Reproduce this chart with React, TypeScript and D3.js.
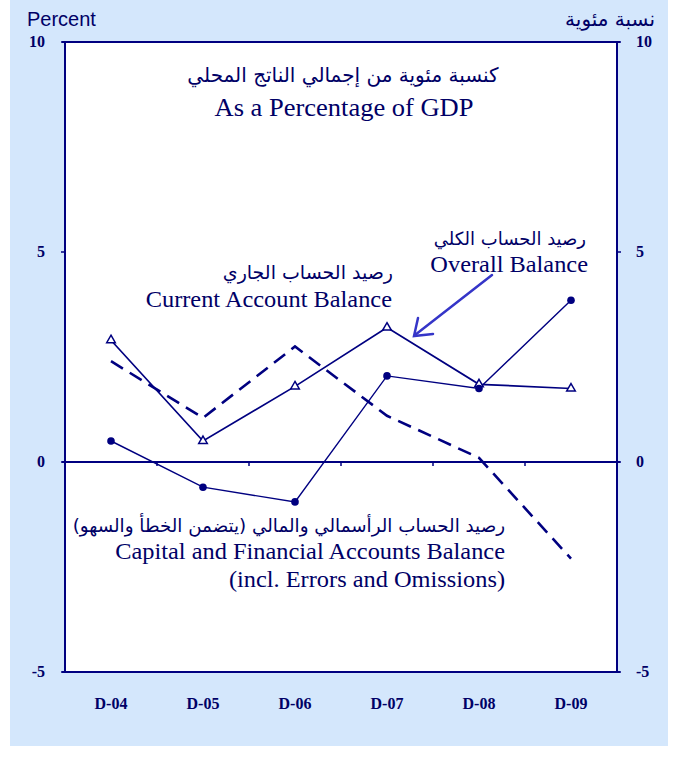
import React from "react";
import * as d3 from "d3";

const categories = ["D-04", "D-05", "D-06", "D-07", "D-08", "D-09"];
const overallBalance = [2.9, 0.5, 1.8, 3.2, 1.85, 1.75];
const currentAccount = [2.4, 1.05, 2.75, 1.1, 0.1, -2.3];
const capitalAccount = [0.5, -0.6, -0.95, 2.05, 1.75, 3.85];
const yTicks = [10, 5, 0, -5];

const W = 677;
const H = 761;
const NAVY = "#000080";
const TEXT = "#000066";
const BG = "#d4e7fc";
const SERIF = "'Liberation Serif', 'Times New Roman', serif";
const SANS = "'Liberation Sans', Arial, sans-serif";
const AR = "'DejaVu Sans', sans-serif";

// Serif text slightly stretched horizontally, as in the reference
function SText(props: { x: number; y: number; size: number; anchor: string; children: React.ReactNode }) {
  const sx = 1.06;
  return (
    <text
      transform={`translate(${props.x},${props.y}) scale(${sx},1)`}
      textAnchor={props.anchor}
      fontFamily={SERIF}
      fontSize={props.size}
      fill={TEXT}
    >
      {props.children}
    </text>
  );
}

export default function App() {
  const x = d3.scaleBand<string>().domain(categories).range([65, 617]);
  const y = d3.scaleLinear().domain([-5, 10]).range([672, 42]);
  const cx = (c: string) => (x(c) as number) + x.bandwidth() / 2;
  const line = d3
    .line<number>()
    .x((_, i) => cx(categories[i]))
    .y((d) => y(d));
  const tri = d3.symbol().type(d3.symbolTriangle).size(32)();

  const [x0, x1] = x.range();
  const boundaries = categories.slice(1).map((c) => x(c) as number);

  return (
    <svg width={W} height={H} style={{ display: "block", position: "absolute", left: 0, top: 0 }}>
      <rect x={10} y={0} width={658} height={746} fill={BG} />
      <rect x={x0} y={y(10)} width={x1 - x0} height={y(-5) - y(10)} fill="#ffffff" />

      {/* axes */}
      <line x1={x0 - 3} x2={x1 + 3} y1={y(10)} y2={y(10)} stroke={NAVY} strokeWidth={2} />
      <line x1={x0 - 3} x2={x1 + 3} y1={y(-5)} y2={y(-5)} stroke={NAVY} strokeWidth={2} />
      <line x1={x0} x2={x0} y1={y(10)} y2={y(-5)} stroke={NAVY} strokeWidth={2} />
      <line x1={x1} x2={x1} y1={y(10)} y2={y(-5)} stroke={NAVY} strokeWidth={2} />
      <line x1={x0 - 3} x2={x1 + 3} y1={y(0)} y2={y(0)} stroke={NAVY} strokeWidth={2} />
      {yTicks.map((t) => (
        <g key={t}>
          <line x1={x0 - 4} x2={x0} y1={y(t)} y2={y(t)} stroke={NAVY} strokeWidth={1.5} />
          <line x1={x1} x2={x1 + 4} y1={y(t)} y2={y(t)} stroke={NAVY} strokeWidth={1.5} />
        </g>
      ))}
      {boundaries.map((b) => (
        <line key={b} x1={b} x2={b} y1={y(0)} y2={y(0) + 4} stroke={NAVY} strokeWidth={1.5} />
      ))}

      {/* tick labels */}
      {yTicks.map((t) => (
        <g key={"l" + t} fontFamily={SERIF} fontWeight="bold" fontSize={16} fill={TEXT}>
          <text x={45} y={y(t) + 5} textAnchor="end">{t}</text>
          <text x={636} y={y(t) + 5} textAnchor="start">{t}</text>
        </g>
      ))}
      {categories.map((c) => (
        <text key={c} x={cx(c)} y={709} textAnchor="middle" fontFamily={SERIF} fontWeight="bold" fontSize={16} fill={TEXT}>
          {c}
        </text>
      ))}

      <text x={27} y={26} fontFamily={SANS} fontSize={20} fill={TEXT}>Percent</text>
      <text x={655} y={26} textAnchor="start" fontFamily={AR} fontSize={20} fill={TEXT} direction="rtl">نسبة مئوية</text>

      {/* series */}
      <path d={line(currentAccount) || ""} fill="none" stroke={NAVY} strokeWidth={2.6} strokeDasharray="14,8" />
      <path d={line(overallBalance) || ""} fill="none" stroke={NAVY} strokeWidth={1.7} />
      <path d={line(capitalAccount) || ""} fill="none" stroke={NAVY} strokeWidth={1.4} />
      {overallBalance.map((v, i) => (
        <path key={"t" + i} d={tri || ""} transform={`translate(${cx(categories[i])},${y(v)})`} fill="#ffffff" stroke={NAVY} strokeWidth={1.5} />
      ))}
      {capitalAccount.map((v, i) => (
        <circle key={"c" + i} cx={cx(categories[i])} cy={y(v)} r={3.8} fill={NAVY} />
      ))}

      {/* title */}
      <text x={343} y={82} textAnchor="middle" fontFamily={AR} fontSize={20} fill={TEXT} direction="rtl">كنسبة مئوية من إجمالي الناتج المحلي</text>
      <SText x={344} y={116} size={25} anchor="middle">As a Percentage of GDP</SText>

      {/* annotations */}
      <text x={586} y={245} textAnchor="start" fontFamily={AR} fontSize={18} fill={TEXT} direction="rtl">رصيد الحساب الكلي</text>
      <SText x={588} y={272} size={23} anchor="end">Overall Balance</SText>
      <text x={393} y={279} textAnchor="start" fontFamily={AR} fontSize={19} fill={TEXT} direction="rtl">رصيد الحساب الجاري</text>
      <SText x={392} y={307} size={23} anchor="end">Current Account Balance</SText>
      <text x={505} y={532} textAnchor="start" fontFamily={AR} fontSize={18.3} fill={TEXT} direction="rtl">رصيد الحساب الرأسمالي والمالي (يتضمن الخطأ والسهو)</text>
      <SText x={505} y={559} size={23} anchor="end">Capital and Financial Accounts Balance</SText>
      <SText x={505} y={587} size={23} anchor="end">(incl. Errors and Omissions)</SText>

      {/* arrow */}
      <g stroke="#3535c8" strokeWidth={2.5} fill="none" strokeLinecap="round">
        <line x1={492} y1={275} x2={415} y2={335} />
        <polyline points="418,318 414,336 433,334" />
      </g>
    </svg>
  );
}
